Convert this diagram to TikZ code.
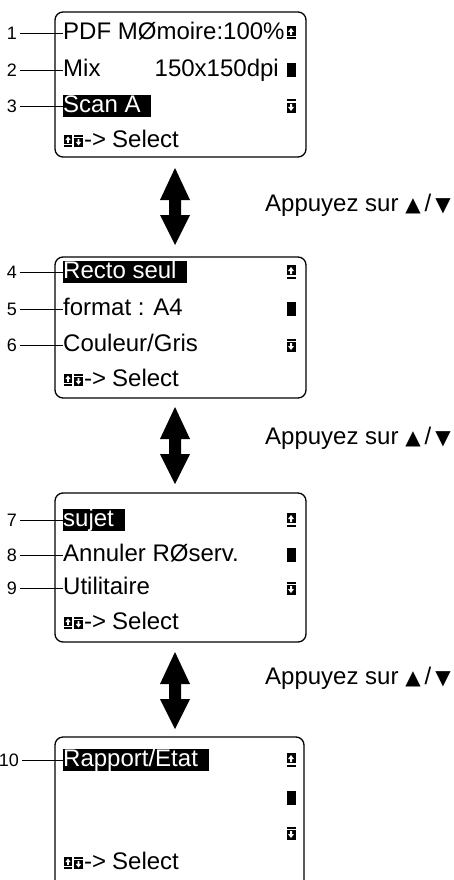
\documentclass[tikz,border=0pt]{standalone}
\usepackage{fontspec}
\setmainfont{Liberation Sans}
\newfontfamily\symfont{DejaVu Sans}
\newcommand{\tri}[1]{{\symfont\fontsize{20}{20}\selectfont #1}}
\newcommand{\pad}{\rule{0.45em}{0pt}}
\tikzset{
  panel/.style={draw=black, line width=1.3pt, rounded corners=8pt},
  row/.style={anchor=west, inner sep=0pt, font=\fontsize{24}{28}\selectfont, text height=17pt, text depth=4.5pt},
  rrow/.style={row, anchor=east},
  hl/.style={row, fill=black, text=white},
  num/.style={anchor=east, inner sep=0pt, font=\fontsize{18}{20}\selectfont},
  lead/.style={line width=0.9pt, shorten <=3pt},
  press/.style={anchor=west, inner sep=0pt, font=\fontsize{24}{28}\selectfont},
  dbl/.style={fill=black},
  upic/.pic={\fill (-4.5,-7) rectangle (4.5,3);
    \fill[white] (-1,2)--(-1,-1)--(-3,-1)--(0,-5)--(3,-1)--(1,-1)--(1,2)--cycle;
    \fill (-4.5,4.5) rectangle (4.5,6.5);},
  dnpic/.pic={\fill (-4.5,-6.5) rectangle (4.5,-4.5);
    \fill (-4.5,-3) rectangle (4.5,7);
    \fill[white] (-1,-2)--(-1,1)--(-3,1)--(0,5)--(3,1)--(1,1)--(1,-2)--cycle;},
  barpic/.pic={\fill (-4.5,-7) rectangle (4.5,7);}
}
\begin{document}
\begin{tikzpicture}[x=1pt,y=-1pt]
\useasboundingbox (0,0) rectangle (454,880);
% ---------- panel 1
\draw[panel] (55,12) rectangle (306,157);
\node[row] (r1) at (63,33) {PDF MØmoire:100\%};
\node[row] (r2) at (63,70) {Mix};
\node[rrow] (r2b) at (279,70) {150x150dpi};
\node[hl] (r3) at (63,106) {Scan A\pad};
\node[row] (s1) at (112,141) {Select};
\node[row] (d1) at (84,141) {->};
\node[num] (n1) at (17,33) {1};
\node[num] (n2) at (17,70) {2};
\node[num] (n3) at (17,106) {3};
\draw[lead] (n1.east) -- (r1.west);
\draw[lead] (n2.east) -- (r2.west);
\draw[lead] (n3.east) -- (r3.west);
\pic at (291,33) {upic};
\pic at (291,70) {barpic};
\pic at (291,106) {dnpic};
\pic[scale=0.9] at (68,141) {upic};
\pic[scale=0.9] at (78.5,141) {dnpic};
% ---------- arrow 1
\fill[dbl] (175,168) -- (190,200) -- (181,200) -- (181,215) -- (190,215) -- (175,245) -- (160,215) -- (169,215) -- (169,200) -- (160,200) -- cycle;
\node[press] (p1) at (265,205) {Appuyez sur \tri{▲}\,/\,\tri{▼}};
% ---------- panel 2
\draw[panel] (55,257) rectangle (306,398);
\node[hl] (r4) at (63,272) {Recto seul\pad};
\node[row] (r5) at (63,309) {format : A4};
\node[row] (r6) at (63,345) {Couleur/Gris};
\node[row] (s2) at (112,380) {Select};
\node[num] (n4) at (17,272) {4};
\node[num] (n5) at (17,309) {5};
\node[num] (n6) at (17,345) {6};
\draw[lead] (n4.east) -- (r4.west);
\draw[lead] (n5.east) -- (r5.west);
\draw[lead] (n6.east) -- (r6.west);
\pic at (291,272) {upic};
\pic at (291,309) {barpic};
\pic at (291,345) {dnpic};
\pic[scale=0.9] at (68,380) {upic};
\pic[scale=0.9] at (78.5,380) {dnpic};
\node[row] (d2) at (84,380) {->};
% ---------- arrow 2
\fill[dbl] (175,407) -- (190,439) -- (181,439) -- (181,454) -- (190,454) -- (175,484) -- (160,454) -- (169,454) -- (169,439) -- (160,439) -- cycle;
\node[press] (p2) at (265,438) {Appuyez sur \tri{▲}\,/\,\tri{▼}};
% ---------- panel 3
\draw[panel] (55,493) rectangle (306,642);
\node[hl] (r7) at (63,520) {sujet\pad};
\node[row] (r8) at (63,555) {Annuler RØserv.};
\node[row] (r9) at (63,588) {Utilitaire};
\node[row] (s3) at (112,623) {Select};
\node[num] (n7) at (17,520) {7};
\node[num] (n8) at (17,555) {8};
\node[num] (n9) at (17,588) {9};
\draw[lead] (n7.east) -- (r7.west);
\draw[lead] (n8.east) -- (r8.west);
\draw[lead] (n9.east) -- (r9.west);
\pic at (291,520) {upic};
\pic at (291,555) {barpic};
\pic at (291,588) {dnpic};
\pic[scale=0.9] at (68,623) {upic};
\pic[scale=0.9] at (78.5,623) {dnpic};
\node[row] (d3) at (84,623) {->};
% ---------- arrow 3
\fill[dbl] (175,652) -- (190,684) -- (181,684) -- (181,699) -- (190,699) -- (175,729) -- (160,699) -- (169,699) -- (169,684) -- (160,684) -- cycle;
\node[press] (p3) at (265,678) {Appuyez sur \tri{▲}\,/\,\tri{▼}};
% ---------- panel 4
\draw[panel] (55,737) rectangle (304,888);
\node[hl] (r10) at (63,760) {Rapport/Etat\pad};
\node[row] (s4) at (112,863) {Select};
\node[num] (n10) at (19,760) {10};
\draw[lead] (n10.east) -- (r10.west);
\pic at (291,760) {upic};
\pic at (291,798) {barpic};
\pic at (291,833) {dnpic};
\pic[scale=0.9] at (68,863) {upic};
\pic[scale=0.9] at (78.5,863) {dnpic};
\node[row] (d4) at (84,863) {->};
\end{tikzpicture}
\end{document}
